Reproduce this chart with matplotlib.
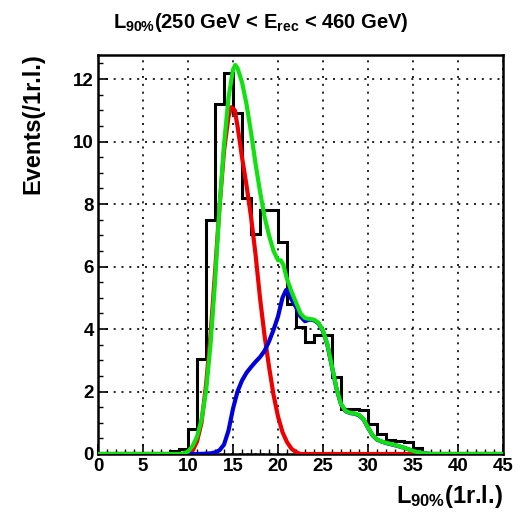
import matplotlib
matplotlib.use("Agg")
import matplotlib.pyplot as plt
import numpy as np

plt.rcParams['font.family'] = ['Liberation Sans', 'DejaVu Sans']
plt.rcParams['font.weight'] = 'bold'
plt.rcParams['mathtext.fontset'] = 'custom'
plt.rcParams['mathtext.rm'] = 'Liberation Sans:bold'
plt.rcParams['mathtext.it'] = 'Liberation Sans:bold'
plt.rcParams['mathtext.bf'] = 'Liberation Sans:bold'

# Shower length histogram: 1 r.l. bins from 0 to 45
bin_edges = list(range(0, 46))
events = [0, 0, 0, 0, 0, 0, 0, 0, 0.1, 0.15,
          0.8, 3.05, 7.5, 11.2, 12.2, 10.9, 8.2, 7.05, 7.8, 7.8,
          6.8, 4.8, 4.05, 3.6, 3.8, 3.8, 2.47, 1.45, 1.43, 1.4,
          0.95, 0.65, 0.45, 0.42, 0.4, 0.2, 0, 0, 0, 0,
          0, 0, 0, 0, 0]

# Component templates and their sum
red_x = [0, 10, 10.5, 11, 11.5, 12, 12.5, 13, 13.5, 14, 14.5, 14.8, 15.2, 15.5,
         16, 16.5, 17, 17.5, 18, 18.5, 19, 19.5, 20, 20.5, 21, 21.5, 22, 22.5, 45]
red_y = [0, 0, 0.1, 0.4, 1.0, 2.2, 3.8, 5.8, 7.9, 9.7, 10.8, 11.1, 11.0, 10.5,
         9.5, 8.6, 7.6, 6.4, 5.0, 3.8, 2.8, 1.9, 1.2, 0.7, 0.38, 0.17, 0.06, 0, 0]

blue_x = [0, 11, 12, 12.5, 13, 13.5, 14, 14.5, 15, 15.5, 16, 16.5, 17, 17.5, 18,
          18.5, 19, 19.5, 20, 20.5, 20.9, 21.2, 21.5, 22, 22.5, 23, 23.5, 24,
          24.5, 25, 25.5, 26, 26.5, 27, 27.5, 28, 28.5, 29, 29.5, 30, 30.5, 31,
          31.5, 32, 33, 34, 35, 35.5, 36, 37, 45]
blue_y = [0, 0, 0.01, 0.02, 0.05, 0.12, 0.3, 0.75, 1.45, 2.0, 2.35, 2.6, 2.78,
          2.95, 3.1, 3.3, 3.6, 3.97, 4.4, 5.0, 5.25, 5.15, 4.95, 4.7, 4.4, 4.25,
          4.3, 4.28, 4.18, 3.93, 3.48, 2.78, 2.09, 1.59, 1.37, 1.31, 1.29, 1.24,
          1.11, 0.84, 0.6, 0.46, 0.4, 0.35, 0.28, 0.2, 0.1, 0.06, 0.03, 0, 0]

green_x = [0, 9, 9.5, 10, 10.5, 11, 11.5, 12, 12.5, 13, 13.5, 14, 14.5, 15, 15.25,
           15.5, 16, 16.5, 17, 17.5, 18, 18.5, 19, 19.5, 20, 20.3, 20.6, 21, 21.5,
           22, 22.5, 23, 23.5, 24, 24.5, 25, 25.5, 26, 26.5, 27, 27.5, 28, 28.5,
           29, 29.5, 30, 30.5, 31, 31.5, 32, 33, 34, 35, 35.5, 36, 37, 45]
green_y = [0, 0, 0.02, 0.08, 0.25, 0.55, 1.1, 2.0, 3.5, 5.5, 7.9, 9.9, 11.4, 12.3,
           12.45, 12.35, 11.9, 11.2, 10.3, 9.3, 8.4, 7.6, 7.0, 6.5, 6.2, 6.2, 6.05,
           5.6, 5.2, 4.85, 4.5, 4.35, 4.32, 4.3, 4.2, 3.95, 3.5, 2.8, 2.1, 1.6,
           1.38, 1.32, 1.3, 1.25, 1.12, 0.85, 0.6, 0.47, 0.4, 0.36, 0.29, 0.2, 0.1,
           0.06, 0.03, 0, 0]

x_ticks = [0, 5, 10, 15, 20, 25, 30, 35, 40, 45]
y_ticks = [0, 2, 4, 6, 8, 10, 12]

fig = plt.figure(figsize=(5.22, 5.16), dpi=100)
ax = fig.add_axes([98 / 522, 1 - 454 / 516, 405 / 522, 399 / 516])

ax.stairs(events, bin_edges, color='black', linewidth=2.2, zorder=3)
lw = 3.0
ax.plot(red_x, red_y, color='#ee0000', linewidth=lw, zorder=4,
        solid_joinstyle='round', solid_capstyle='round')
ax.plot(blue_x, blue_y, color='#0000dd', linewidth=lw, zorder=5,
        solid_joinstyle='round', solid_capstyle='round')
ax.plot(green_x, green_y, color='#11e011', linewidth=lw, zorder=6,
        solid_joinstyle='round', solid_capstyle='round')

ax.set_xlim(0, 45)
ax.set_ylim(0, 12.77)
ax.set_xticks(x_ticks)
ax.set_yticks(y_ticks)
ax.set_xticks(np.arange(0, 46, 1), minor=True)
ax.set_yticks(np.arange(0, 12.8, 0.5), minor=True)
ax.grid(True, which='major', color='black', linestyle=(0, (1.2, 3.5)), linewidth=1.2)
ax.set_axisbelow(True)

ax.tick_params(which='major', direction='in', length=7, width=1.2,
               labelsize=13.5, pad=3)
ax.tick_params(which='minor', direction='in', length=3.5, width=1.0)
for lab in ax.get_xticklabels() + ax.get_yticklabels():
    lab.set_fontweight('bold')
for sp in ax.spines.values():
    sp.set_linewidth(1.8)

fig.text(503 / 522, 1 - 497 / 516, r'$L_{90\%}$(1r.l.)', ha='right', va='center',
         fontsize=17, fontweight='bold')
fig.text(33 / 522, 1 - 53 / 516, 'Events(/1r.l.)', ha='center', va='top',
         rotation=90, fontsize=17, fontweight='bold')
fig.text(0.5, 1 - 22 / 516, r'$L_{90\%}$(250 GeV < E$_{rec}$ < 460 GeV)',
         ha='center', va='center', fontsize=14.5, fontweight='bold')

fig.savefig('out.png', dpi=100)
